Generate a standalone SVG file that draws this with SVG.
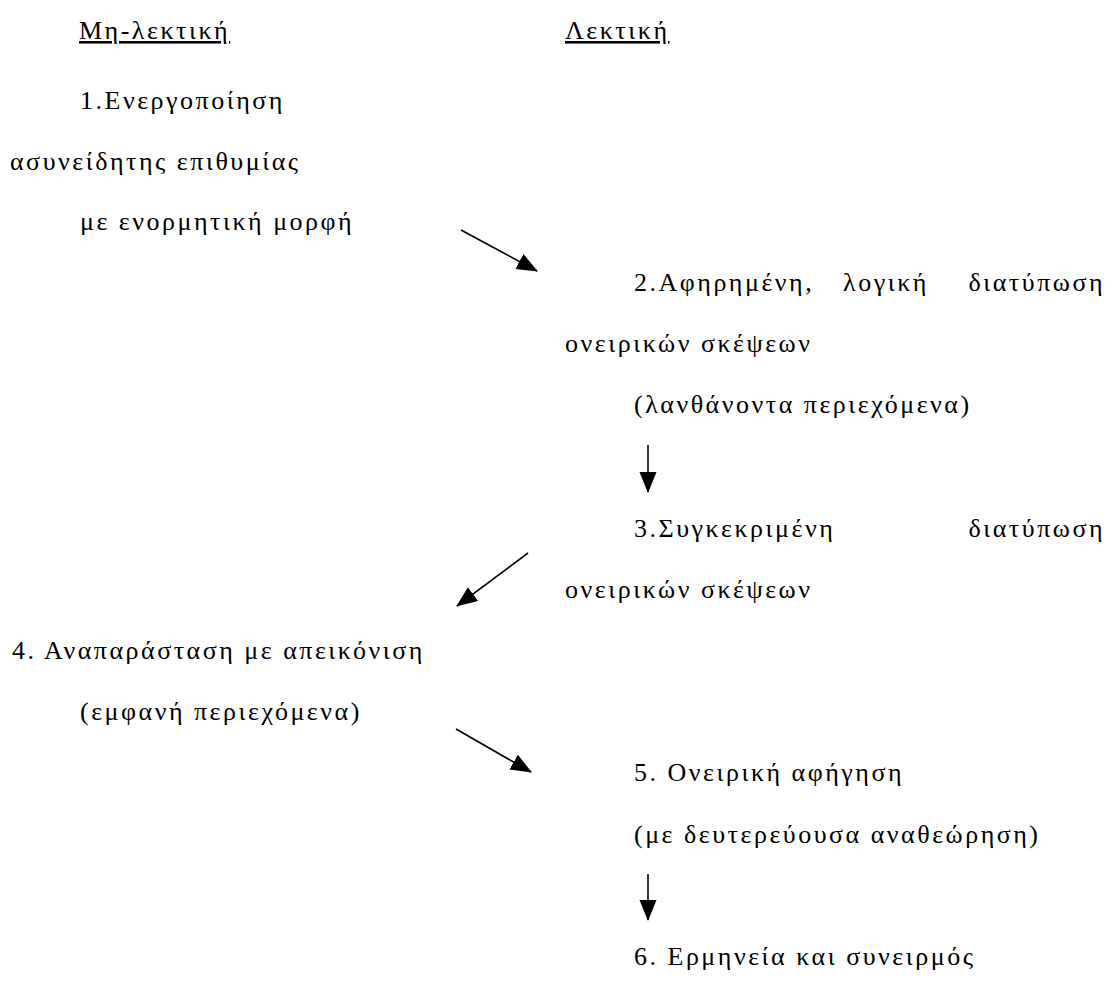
<svg xmlns="http://www.w3.org/2000/svg" width="1120" height="996" viewBox="0 0 1120 996">
<style>
text{font-family:"Liberation Serif","DejaVu Serif",serif;font-size:26px;fill:#000;letter-spacing:2.5px}
.u{text-decoration:underline}
.c{stroke:#000;stroke-width:1.6;fill:none}
</style>
<defs>
<marker id="ah" markerUnits="userSpaceOnUse" markerWidth="22" markerHeight="18" refX="20" refY="8.5" orient="auto" viewBox="0 0 22 18">
<path d="M0,0 L21,8.5 L0,17 Z" fill="#000"/>
</marker>
</defs>
<rect width="1120" height="996" fill="#fff"/>
<g id="headers">
<text class="u" x="79" y="39">Μη-λεκτική</text>
<text class="u" x="565" y="39">Λεκτική</text>
</g>
<g id="n1">
<text x="80" y="109">1.Ενεργοποίηση</text>
<text x="10" y="170">ασυνείδητης επιθυμίας</text>
<text x="80" y="230">με ενορμητική μορφή</text>
</g>
<g id="n2">
<text x="634" y="291">2.Αφηρημένη,</text>
<text x="886" y="291" text-anchor="middle">λογική</text>
<text x="1105" y="291" text-anchor="end">διατύπωση</text>
<text x="565" y="352">ονειρικών σκέψεων</text>
<text x="634" y="413">(λανθάνοντα περιεχόμενα)</text>
</g>
<g id="n3">
<text x="634" y="537">3.Συγκεκριμένη</text>
<text x="1105" y="537" text-anchor="end">διατύπωση</text>
<text x="565" y="598">ονειρικών σκέψεων</text>
</g>
<g id="n4">
<text x="12" y="659">4. Αναπαράσταση με απεικόνιση</text>
<text x="80" y="720">(εμφανή περιεχόμενα)</text>
</g>
<g id="n5">
<text x="634" y="781">5. Ονειρική αφήγηση</text>
<text x="634" y="843">(με δευτερεύουσα αναθεώρηση)</text>
</g>
<g id="n6">
<text x="634" y="965">6. Ερμηνεία και συνειρμός</text>
</g>
<g id="connectors">
<line class="c" x1="461" y1="230" x2="537" y2="271" marker-end="url(#ah)"/>
<line class="c" x1="648" y1="445" x2="648" y2="492" marker-end="url(#ah)"/>
<line class="c" x1="528" y1="553" x2="457" y2="606" marker-end="url(#ah)"/>
<line class="c" x1="456" y1="729" x2="531" y2="772" marker-end="url(#ah)"/>
<line class="c" x1="648" y1="874" x2="648" y2="920" marker-end="url(#ah)"/>
</g>
</svg>
